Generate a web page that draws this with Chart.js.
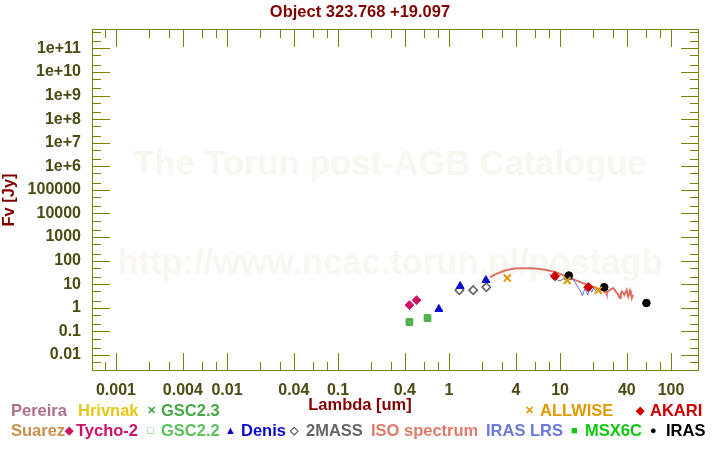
<!DOCTYPE html>
<html>
<head>
<meta charset="utf-8">
<script src="https://cdn.jsdelivr.net/npm/chart.js@4"></script>
<style>
  body { margin: 0; background: #fff; }
  #wrap { position: relative; width: 720px; height: 450px; overflow: hidden;
          font-family: "Liberation Sans", Arial, sans-serif; font-weight: bold; }
  #wrap canvas { position: absolute; left: 0; top: 0; z-index: 2; }
  .wm { position: absolute; left: 30px; width: 720px; text-align: center; color: #f8f6f0;
        font-size: 34.5px; line-height: 40px; white-space: nowrap; z-index: 1; }
  .t { position: absolute; font-size: 16.5px; line-height: 20px; white-space: nowrap; z-index: 3; }
  .m { position: absolute; font-size: 11px; line-height: 20px; white-space: nowrap; z-index: 3; }
</style>
</head>
<body>
<div id="wrap">
  <div class="wm" style="top:143px">The Torun post-AGB Catalogue</div>
  <div class="wm" style="top:242px">http://www.ncac.torun.pl/postagb</div>
  <canvas id="sed" width="720" height="450"></canvas>

  <div class="t" style="left:0;width:720px;text-align:center;top:1px;color:#800000">Object 323.768 +19.097</div>
  <div class="t" style="left:0;width:720px;text-align:center;top:394px;color:#800000">Lambda [um]</div>

  <!-- legend, row 1 -->
  <div class="t" style="left:11px;top:400px;color:#b06f8a">Pereira</div>
  <div class="t" style="left:78px;top:400px;color:#e6c619">Hrivnak</div>
  <div class="m" style="left:147px;top:400px;color:#44a844">&#x2715;</div>
  <div class="t" style="left:161px;top:400px;color:#44a844">GSC2.3</div>
  <div class="m" style="left:525px;top:400px;color:#e09a00">&#x2715;</div>
  <div class="t" style="left:540px;top:400px;color:#e09a00">ALLWISE</div>
  <div class="m" style="left:636px;top:400px;color:#cc0000">&#x25C6;</div>
  <div class="t" style="left:650px;top:400px;color:#cc0000">AKARI</div>

  <!-- legend, row 2 -->
  <div class="t" style="left:11px;top:420px;color:#c8904a">Suarez</div>
  <div class="m" style="left:65px;top:420px;color:#cc1166">&#x25C6;</div>
  <div class="t" style="left:76px;top:420px;color:#cc1166">Tycho-2</div>
  <div class="m" style="left:147px;top:420px;color:#5cc05c">&#x25A1;</div>
  <div class="t" style="left:161px;top:420px;color:#5cc05c">GSC2.2</div>
  <div class="m" style="left:225px;top:420px;color:#0a0acc">&#x25B2;</div>
  <div class="t" style="left:241px;top:420px;color:#0a0acc">Denis</div>
  <div class="m" style="left:290px;top:420px;color:#555">&#x25C7;</div>
  <div class="t" style="left:306px;top:420px;color:#666">2MASS</div>
  <div class="t" style="left:371px;top:420px;color:#e07a6a">ISO spectrum</div>
  <div class="t" style="left:486px;top:420px;color:#6a78d8">IRAS LRS</div>
  <div class="m" style="left:571px;top:420px;color:#10c810">&#x25A0;</div>
  <div class="t" style="left:585px;top:420px;color:#10c810">MSX6C</div>
  <div class="m" style="left:650px;top:420px;color:#000">&#x25CF;</div>
  <div class="t" style="left:666px;top:420px;color:#000">IRAS</div>
</div>

<script>
  // photometry, wavelength in um, flux in Jy
  const tychoLambda = [0.44, 0.51];
  const tychoFlux = [1.3, 2.1];

  const gscLambda = [0.44, 0.64];
  const gsc22Flux = [0.25, 0.37];
  const gsc23Flux = [0.25, 0.37];

  const denisLambda = [0.81, 1.26, 2.15];
  const denisFlux = [0.88, 8.3, 14.9];

  const twomassLambda = [1.24, 1.65, 2.17];
  const twomassFlux = [5.6, 5.6, 7.5];

  const allwiseLambda = [3.35, 11.6, 22.1];
  const allwiseFlux = [18.2, 14.4, 5.6];

  const akariLambda = [9.0, 18.0];
  const akariFlux = [22, 7.5];

  const irasLambda = [12, 25, 60];
  const irasFlux = [23.4, 7.5, 1.6];

  const msxLambda = [];
  const msxFlux = [];

  // ISO SWS spectrum
  const isoLambda = [2.35, 2.5, 2.8, 3.2, 3.6, 3.95, 4.4, 4.85, 5.4, 5.95, 6.6, 7.3, 8.1, 9.0, 10.0,
    11.1, 12.3, 13.6, 15.0, 16.7, 18.5, 20.6, 22.5, 24.6, 25.3, 26.0, 26.4, 27.2, 28.2, 29.2, 30.2,
    31.0, 31.7, 32.6, 33.5, 34.1, 34.7, 35.3, 36.0, 37.0, 38.0, 39.0, 39.9, 40.5, 41.2, 42.0, 42.7,
    43.5, 44.3, 45.0, 45.7];
  const isoFlux = [19.5, 24, 30.5, 38, 43, 46.4, 47.5, 48.2, 47.8, 46.4, 44, 41, 37, 32.6, 27.5,
    22.7, 19, 15.4, 12.6, 10.4, 8.7, 7.25, 6.2, 5.25, 4.6, 5.4, 4.2, 5.2, 5.8, 6.5, 6.8,
    5.9, 4.9, 4.2, 3.55, 2.9, 2.6, 3.8, 4.9, 4.3, 3.55, 4.6, 5.8, 4.1, 3.0, 4.0, 5.3,
    3.8, 2.6, 3.2, 3.5];

  // IRAS LRS spectrum
  const lrsLambda = [8.0, 8.5, 9.0, 9.5, 10.0, 10.7, 11.3, 11.9, 12.5, 13.2, 13.7, 14.1, 14.6, 15.1,
    15.5, 15.9, 16.4, 16.8, 17.3, 17.8, 18.2, 18.6, 19.3, 20.0, 20.8, 21.5];
  const lrsFlux = [28, 21, 17, 15, 14, 17, 15.5, 15.4, 16, 15.4, 12, 9.4, 7, 5.8,
    4.5, 3.3, 5, 6.4, 4.8, 3.55, 5.5, 6.8, 4.6, 6.8, 5.5, 6];

  const xMajorTicks = [0.001, 0.004, 0.01, 0.04, 0.1, 0.4, 1, 4, 10, 40, 100];
  const xTickLabels = ['0.001', '0.004', '0.01', '0.04', '0.1', '0.4', '1', '4', '10', '40', '100'];
  const xMinorTicks = [0.0008, 0.002, 0.003, 0.006, 0.008, 0.02, 0.03, 0.06, 0.08, 0.2, 0.3, 0.6, 0.8,
    2, 3, 6, 8, 20, 30, 60, 80];

  const yMajorTicks = [0.01, 0.1, 1, 10, 100, 1000, 1e4, 1e5, 1e6, 1e7, 1e8, 1e9, 1e10, 1e11];
  const yTickLabels = ['0.01', '0.1', '1', '10', '100', '1000', '10000', '100000',
    '1e+6', '1e+7', '1e+8', '1e+9', '1e+10', '1e+11'];
  const yMinorTicks = [0.005];
  for (let e = -2; e <= 11; e++) {
    yMinorTicks.push(2 * Math.pow(10, e), 5 * Math.pow(10, e));
  }

  const axisColor = '#808000';
  const tickTextColor = '#4b4b14';
  const fontFamily = '"Liberation Sans", Arial, sans-serif';

  function pts(xs, ys) {
    return xs.map((x, i) => ({ x: x, y: ys[i] }));
  }

  function labelFor(v, vals, labels) {
    for (let i = 0; i < vals.length; i++) {
      if (Math.abs(Math.log10(v / vals[i])) < 1e-6) return labels[i];
    }
    return '';
  }

  function makeTicks(major, minor) {
    return major.map(v => ({ value: v, long: true }))
      .concat(minor.map(v => ({ value: v, long: false })))
      .sort((a, b) => a.value - b.value);
  }

  // inward ticks on all four sides plus the frame
  const frameTicks = {
    id: 'frameTicks',
    afterDatasetsDraw(chart) {
      const c = chart.ctx, a = chart.chartArea;
      const sx = chart.scales.x, sy = chart.scales.y;
      c.save();
      c.strokeStyle = axisColor;
      c.lineWidth = 1;
      c.beginPath();
      sx.ticks.forEach(t => {
        const px = Math.round(sx.getPixelForValue(t.value)) + 0.5;
        if (px < a.left || px > a.right) return;
        const len = t.long ? 18 : 9;
        c.moveTo(px, a.bottom); c.lineTo(px, a.bottom - len);
        c.moveTo(px, a.top); c.lineTo(px, a.top + len);
      });
      sy.ticks.forEach(t => {
        const py = Math.round(sy.getPixelForValue(t.value)) + 0.5;
        if (py < a.top || py > a.bottom) return;
        const len = t.long ? 18 : 9;
        c.moveTo(a.left, py); c.lineTo(a.left + len, py);
        c.moveTo(a.right, py); c.lineTo(a.right - len, py);
      });
      c.stroke();
      c.strokeRect(a.left + 0.5, a.top + 0.5, a.right - a.left - 1, a.bottom - a.top - 1);
      c.restore();
    }
  };

  Chart.defaults.font.family = fontFamily;

  const ctx = document.getElementById('sed');

  new Chart(ctx, {
    type: 'scatter',
    data: {
      datasets: [
        { label: 'ALLWISE', data: pts(allwiseLambda, allwiseFlux), pointStyle: 'crossRot',
          radius: 5, borderColor: '#e09a00', borderWidth: 2 },
        { label: 'IRAS', data: pts(irasLambda, irasFlux), pointStyle: 'circle',
          radius: 3.8, backgroundColor: '#000', borderColor: '#000', borderWidth: 1 },
        { label: 'AKARI', data: pts(akariLambda, akariFlux), pointStyle: 'rectRot',
          radius: 4.6, backgroundColor: '#cc0000', borderColor: '#cc0000', borderWidth: 1 },
        { label: 'MSX6C', data: pts(msxLambda, msxFlux), pointStyle: 'rect',
          radius: 4, backgroundColor: '#10c810', borderColor: '#10c810' },
        { label: 'Denis', data: pts(denisLambda, denisFlux), pointStyle: 'triangle',
          radius: 4.6, backgroundColor: '#0a0acc', borderColor: '#0a0acc', borderWidth: 1 },
        { label: '2MASS', data: pts(twomassLambda, twomassFlux), pointStyle: 'rectRot',
          radius: 4.2, backgroundColor: 'rgba(0,0,0,0)', borderColor: '#666', borderWidth: 1.6 },
        { label: 'GSC2.3', data: pts(gscLambda, gsc23Flux), pointStyle: 'crossRot',
          radius: 4.2, borderColor: '#66cc66', borderWidth: 1 },
        { label: 'GSC2.2', data: pts(gscLambda, gsc22Flux), pointStyle: 'rect',
          radius: 4.7, backgroundColor: '#44a844', borderColor: '#44a844', borderWidth: 1 },
        { label: 'Tycho-2', data: pts(tychoLambda, tychoFlux), pointStyle: 'rectRot',
          radius: 4.4, backgroundColor: '#cc1166', borderColor: '#cc1166', borderWidth: 1 },
        { label: 'IRAS LRS', data: pts(lrsLambda, lrsFlux), showLine: true, pointRadius: 0,
          borderColor: '#5a68d4', borderWidth: 1, tension: 0 },
        { label: 'ISO spectrum', data: pts(isoLambda, isoFlux), showLine: true, pointRadius: 0,
          borderColor: '#e07060', borderWidth: 2, tension: 0 }
      ]
    },
    options: {
      responsive: false,
      animation: false,
      devicePixelRatio: 1,
      layout: { padding: { top: 29, right: 21, bottom: 0, left: 0 } },
      plugins: {
        legend: { display: false },
        tooltip: { enabled: false }
      },
      scales: {
        x: {
          type: 'logarithmic',
          position: 'bottom',
          bounds: 'data',
          min: 0.000608,
          max: 178.6,
          grid: { display: false },
          border: { display: false },
          afterBuildTicks: s => { s.ticks = makeTicks(xMajorTicks, xMinorTicks); },
          afterFit: s => { s.height = 79; },
          ticks: {
            autoSkip: false,
            maxRotation: 0,
            minRotation: 0,
            padding: 2,
            color: tickTextColor,
            font: { size: 16, weight: 'bold' },
            callback: v => labelFor(v, xMajorTicks, xTickLabels)
          }
        },
        y: {
          type: 'logarithmic',
          position: 'left',
          bounds: 'data',
          min: 0.0021,
          max: 6.6e11,
          grid: { display: false },
          border: { display: false },
          afterBuildTicks: s => { s.ticks = makeTicks(yMajorTicks, yMinorTicks); },
          afterFit: s => { s.width = 92; },
          title: {
            display: true,
            text: 'Fv [Jy]',
            color: '#800000',
            font: { size: 16.5, weight: 'bold' },
            padding: 0
          },
          ticks: {
            autoSkip: false,
            padding: 3,
            color: tickTextColor,
            font: { size: 16, weight: 'bold' },
            callback: v => labelFor(v, yMajorTicks, yTickLabels)
          }
        }
      }
    },
    plugins: [frameTicks]
  });
</script>
</body>
</html>
